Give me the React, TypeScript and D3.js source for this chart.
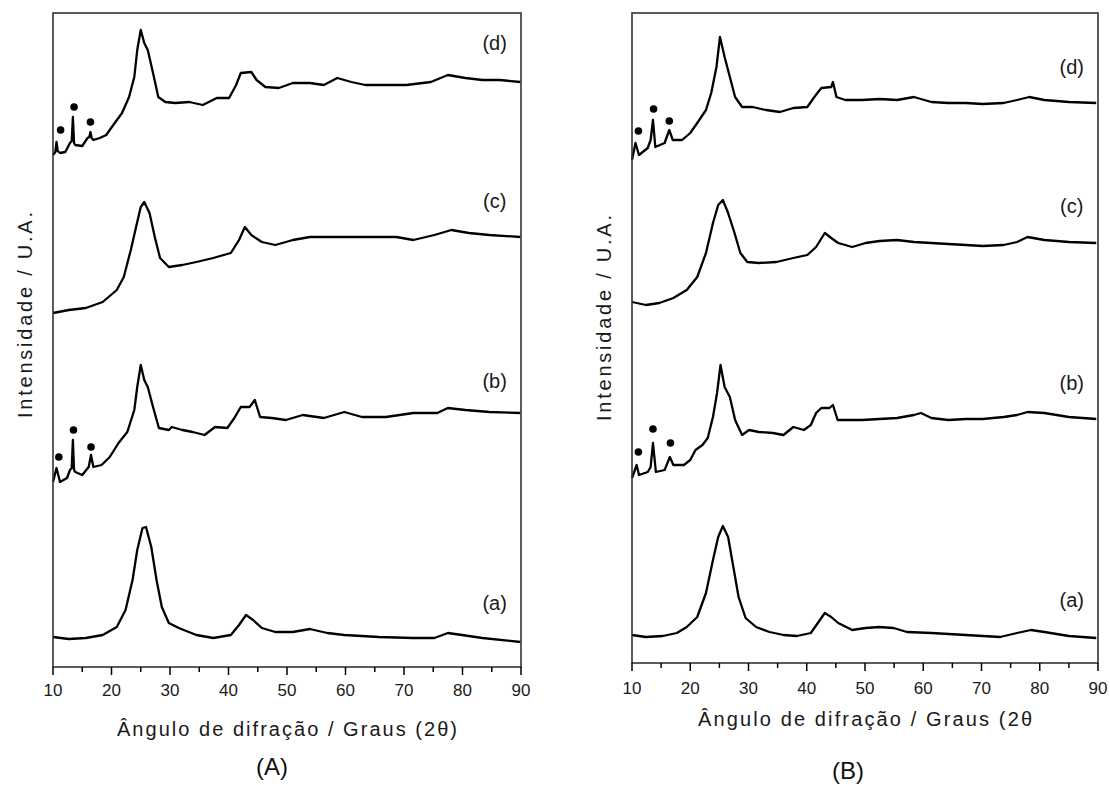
import React from "react";
import * as d3 from "d3";

// ---------- DATA (2θ in degrees, intensity in arbitrary stacked units) ----------
const xTicks = [10, 20, 30, 40, 50, 60, 70, 80, 90];
const xMinorTicks = [15, 25, 35, 45, 55, 65, 75, 85];
const seriesNames = ["(a)", "(b)", "(c)", "(d)"];

// Panel A
const A_a_x = [10, 12.7, 15.6, 18.5, 20.9, 22.4, 23.6, 24.4, 25.3, 25.9, 26.8, 27.7, 28.6, 29.8, 31.5, 34.5, 37.4, 40.4, 41.8, 43.0, 44.2, 45.7, 48.0, 51.0, 53.9, 56.9, 59.8, 65.7, 71.6, 75.2, 77.5, 79.9, 83.4, 89.9];
const A_a_y = [30, 28, 29, 32, 40, 57, 87, 117, 139, 140, 120, 87, 60, 44, 39, 32, 29, 32, 42, 52, 47, 39, 35, 35, 38, 34, 32, 30, 29, 29, 34, 32, 29, 25];

const A_b_x = [10, 10.6, 11.2, 12.4, 12.9, 13.2, 13.4, 13.6, 13.8, 15.0, 16.1, 16.5, 16.9, 18.3, 19.7, 21.2, 22.7, 23.9, 24.4, 25.0, 25.6, 26.2, 27.1, 28.1, 29.8, 30.3, 32.1, 33.9, 35.9, 37.7, 39.8, 41.0, 42.1, 43.6, 44.5, 45.4, 47.4, 49.8, 52.7, 56.3, 59.8, 62.8, 66.9, 71.6, 75.7, 77.5, 80.5, 84.6, 89.9];
const A_b_y = [185, 199, 185, 189, 197, 199, 227, 197, 195, 192, 200, 212, 200, 202, 210, 224, 235, 257, 280, 302, 287, 280, 260, 239, 237, 240, 237, 235, 232, 240, 239, 249, 260, 260, 267, 250, 249, 247, 252, 249, 255, 250, 250, 254, 254, 259, 257, 255, 254];

const A_c_x = [10, 12.7, 15.6, 18.5, 20.9, 22.1, 23.3, 24.2, 25.0, 25.6, 26.5, 27.4, 28.3, 29.8, 32.1, 34.5, 37.4, 40.4, 41.8, 42.8, 43.9, 45.7, 48.0, 51.0, 53.9, 56.9, 59.8, 62.8, 65.7, 68.7, 71.6, 75.2, 78.1, 81.1, 84.6, 89.9];
const A_c_y = [354, 357, 359, 365, 377, 390, 417, 440, 460, 465, 454, 430, 409, 400, 402, 405, 409, 414, 427, 440, 432, 425, 422, 427, 430, 430, 430, 430, 430, 430, 427, 432, 437, 434, 432, 430];

const A_d_x = [10, 10.4, 10.6, 10.8, 11.2, 12.1, 12.9, 13.2, 13.4, 13.6, 13.8, 15.0, 15.9, 16.2, 16.4, 16.6, 16.9, 18.0, 19.1, 20.3, 21.8, 23.0, 23.9, 24.4, 25.0, 25.6, 26.2, 27.1, 28.0, 29.2, 30.9, 33.3, 35.6, 38.0, 40.1, 41.3, 42.1, 43.9, 44.8, 46.3, 48.6, 51.0, 53.9, 56.3, 58.6, 61.0, 63.4, 66.9, 70.4, 74.6, 77.5, 80.5, 83.4, 86.4, 89.9];
const A_d_y = [512, 515, 525, 516, 514, 515, 524, 526, 550, 524, 522, 521, 529, 530, 535, 529, 527, 529, 532, 542, 554, 570, 590, 617, 637, 624, 617, 594, 570, 565, 564, 565, 562, 569, 569, 582, 594, 595, 587, 580, 579, 584, 584, 582, 589, 585, 582, 582, 582, 585, 592, 589, 587, 587, 585];

const A_dots_b_x = [11.0, 13.5, 16.5];
const A_dots_b_y = [210, 237, 220];
const A_dots_d_x = [11.3, 13.6, 16.4];
const A_dots_d_y = [537, 560, 545];
const A_labelY = [57, 279, 459, 617];

// Panel B
const B_a_x = [10, 12.4, 15.3, 17.7, 19.4, 21.2, 22.7, 23.9, 24.8, 25.6, 26.5, 27.4, 28.3, 29.5, 31.3, 33.6, 36.0, 38.3, 40.7, 41.9, 43.1, 44.2, 45.4, 47.8, 50.1, 52.5, 54.9, 57.2, 61.4, 67.3, 73.2, 76.1, 78.5, 80.8, 85.0, 89.7];
const B_a_y = [28, 26, 27, 30, 36, 46, 70, 103, 126, 137, 126, 96, 66, 45, 36, 31, 28, 27, 30, 40, 50, 46, 40, 33, 35, 36, 35, 31, 30, 28, 26, 30, 33, 31, 27, 25];

const B_b_x = [10, 10.8, 11.2, 12.7, 13.2, 13.6, 14.1, 15.6, 16.5, 17.1, 18.9, 20.0, 20.9, 22.1, 23.0, 23.9, 24.6, 25.2, 25.9, 26.8, 27.7, 28.9, 30.1, 31.8, 34.2, 36.0, 37.7, 39.5, 40.7, 41.6, 42.5, 43.9, 44.5, 45.3, 46.6, 49.5, 52.5, 55.5, 58.4, 59.6, 61.4, 64.3, 67.3, 70.2, 73.8, 76.1, 77.9, 80.8, 85.0, 89.7];
const B_b_y = [185, 198, 188, 191, 196, 220, 191, 193, 206, 198, 198, 203, 213, 218, 225, 246, 270, 298, 276, 266, 243, 228, 233, 231, 230, 228, 236, 233, 238, 250, 255, 255, 258, 243, 243, 243, 244, 245, 248, 250, 245, 243, 244, 244, 246, 248, 251, 250, 246, 244];

const B_c_x = [10, 12.4, 14.7, 17.1, 19.4, 21.2, 22.7, 23.9, 24.8, 25.6, 26.5, 27.6, 28.6, 29.8, 31.8, 34.8, 37.7, 40.1, 41.6, 43.1, 44.2, 45.4, 47.8, 50.1, 52.5, 55.5, 58.4, 61.4, 64.3, 67.3, 70.2, 73.8, 76.1, 77.9, 80.8, 85.0, 89.7];
const B_c_y = [361, 358, 360, 365, 373, 386, 410, 440, 458, 463, 450, 430, 410, 401, 400, 401, 405, 408, 416, 430, 425, 420, 416, 420, 422, 423, 421, 420, 419, 418, 417, 418, 421, 426, 423, 421, 420];

const B_d_x = [10, 10.6, 11.2, 12.7, 13.2, 13.6, 14.0, 15.6, 16.4, 17.0, 18.6, 20.0, 21.2, 22.7, 23.6, 24.5, 25.1, 25.9, 26.8, 27.7, 28.9, 30.7, 33.0, 35.4, 37.7, 40.1, 41.3, 42.5, 44.2, 44.5, 45.1, 46.6, 49.5, 52.5, 55.5, 58.4, 61.4, 64.3, 67.3, 70.2, 73.8, 76.1, 78.2, 80.8, 85.0, 89.7];
const B_d_y = [503, 520, 508, 515, 523, 543, 516, 520, 533, 523, 523, 530, 540, 553, 570, 596, 626, 606, 586, 566, 556, 556, 553, 551, 555, 556, 566, 575, 576, 581, 566, 563, 563, 564, 563, 566, 561, 560, 560, 559, 560, 563, 566, 563, 561, 560];

const B_dots_b_x = [11.1, 13.6, 16.6];
const B_dots_b_y = [211, 234, 220];
const B_dots_d_x = [11.1, 13.7, 16.4];
const B_dots_d_y = [532, 554, 542];
const B_labelY = [56, 273, 450, 589];

// ---------- LAYOUT ----------
const W = 1110;
const H = 785;
const FONT = "'Liberation Sans', Arial, sans-serif";

type PanelProps = {
  left: number; right: number; top: number; bottom: number;
  yMax: number;
  series: { x: number[]; y: number[] }[];
  dots: { x: number[]; y: number[] }[];
  labelY: number[];
  xTitle: string; xTitleY: number; xTitleLen: number;
  yTitleX: number; yTitleCy: number;
  panelName: string; panelNameX: number; panelNameY: number;
  tickLabelY: number;
};

function Panel(p: PanelProps) {
  const x = d3.scaleLinear().domain([10, 90]).range([p.left, p.right]);
  const y = d3.scaleLinear().domain([0, p.yMax]).range([p.bottom, p.top]);
  const line = d3.line<[number, number]>().x((d) => x(d[0])).y((d) => y(d[1]));
  const cx = (p.left + p.right) / 2;
  return (
    <g>
      {p.series.map((s, i) => (
        <path key={i} d={line(s.x.map((v, j) => [v, s.y[j]] as [number, number])) || ""}
          fill="none" stroke="#000" strokeWidth={2.3} strokeLinejoin="round" />
      ))}
      {p.dots.map((s, i) =>
        s.x.map((v, j) => <circle key={`${i}-${j}`} cx={x(v)} cy={y(s.y[j])} r={3.8} fill="#000" />)
      )}
      {seriesNames.map((n, i) => (
        <text key={n} x={x(85.5)} y={y(p.labelY[i])} textAnchor="middle" fontSize={20}
          fontFamily={FONT} fill="#1a1a1a">{n}</text>
      ))}
      {/* frame */}
      <rect x={p.left} y={p.top} width={p.right - p.left} height={p.bottom - p.top}
        fill="none" stroke="#333" strokeWidth={1.6} />
      {xTicks.map((t) => (
        <g key={t}>
          <line x1={x(t)} x2={x(t)} y1={p.bottom} y2={p.bottom + 8} stroke="#000" strokeWidth={1.5} />
          <text x={x(t)} y={p.tickLabelY} textAnchor="middle" fontSize={17} fontFamily={FONT} fill="#1a1a1a">{t}</text>
        </g>
      ))}
      {xMinorTicks.map((t) => (
        <line key={t} x1={x(t)} x2={x(t)} y1={p.bottom} y2={p.bottom + 5} stroke="#000" strokeWidth={1.5} />
      ))}
      <text x={cx} y={p.xTitleY} textAnchor="middle" fontSize={20} fontFamily={FONT} fill="#1a1a1a"
        textLength={p.xTitleLen} lengthAdjust="spacing">{p.xTitle}</text>
      <text transform={`translate(${p.yTitleX},${p.yTitleCy}) rotate(-90)`} textAnchor="middle" fontSize={20}
        fontFamily={FONT} fill="#1a1a1a" textLength={206} lengthAdjust="spacing">Intensidade / U.A.</text>
      <text x={p.panelNameX} y={p.panelNameY} textAnchor="middle" fontSize={24} fontFamily={FONT} fill="#111">{p.panelName}</text>
    </g>
  );
}

export default function App() {
  return (
    <svg width={W} height={H} style={{ position: "absolute", left: 0, top: 0, background: "#fff" }}>
      <rect width={W} height={H} fill="#fff" />
      <Panel left={53} right={521} top={13} bottom={667} yMax={654}
        series={[{ x: A_a_x, y: A_a_y }, { x: A_b_x, y: A_b_y }, { x: A_c_x, y: A_c_y }, { x: A_d_x, y: A_d_y }]}
        dots={[{ x: A_dots_b_x, y: A_dots_b_y }, { x: A_dots_d_x, y: A_dots_d_y }]}
        labelY={A_labelY}
        xTitle="Ângulo de difração / Graus (2θ)" xTitleY={736} xTitleLen={340}
        yTitleX={32} yTitleCy={315}
        panelName="(A)" panelNameX={272} panelNameY={775} tickLabelY={696} />
      <Panel left={632} right={1098} top={13} bottom={663} yMax={650}
        series={[{ x: B_a_x, y: B_a_y }, { x: B_b_x, y: B_b_y }, { x: B_c_x, y: B_c_y }, { x: B_d_x, y: B_d_y }]}
        dots={[{ x: B_dots_b_x, y: B_dots_b_y }, { x: B_dots_d_x, y: B_dots_d_y }]}
        labelY={B_labelY}
        xTitle="Ângulo de difração / Graus (2θ" xTitleY={726} xTitleLen={334}
        yTitleX={611} yTitleCy={318}
        panelName="(B)" panelNameX={848} panelNameY={779} tickLabelY={694} />
    </svg>
  );
}
